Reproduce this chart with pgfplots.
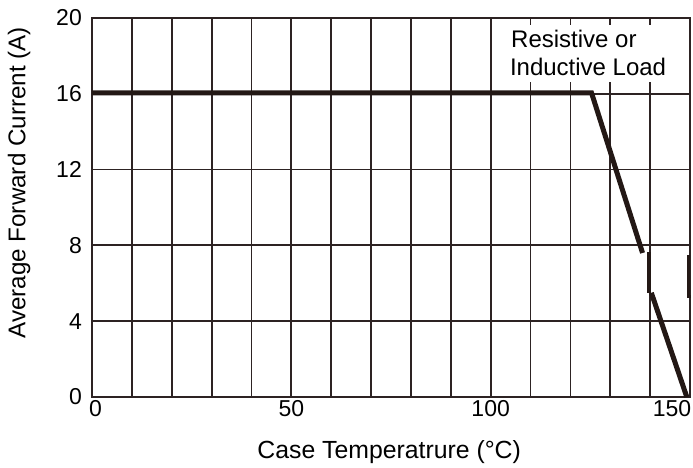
\documentclass[border=0pt]{standalone}
\usepackage{pgfplots}
\pgfplotsset{compat=1.18}
\usepackage{fontspec}
\setmainfont{Liberation Sans}
\definecolor{curve}{RGB}{35,24,21}
\definecolor{gridc}{RGB}{45,35,35}
\begin{document}
\begin{tikzpicture}
\begin{axis}[
  scale only axis,
  width=598pt, height=379pt,
  xmin=0, xmax=150, ymin=0, ymax=20,
  xtick={0,50,100,150},
  minor xtick={10,20,30,40,60,70,80,90,110,120,130,140},
  xticklabels={\hspace*{7pt}0,50,100,150\hspace*{36pt}},
  ytick={0,4,8,12,16,20},
  grid=both,
  major grid style={gridc, line width=1.8pt},
  minor grid style={gridc, line width=1.8pt},
  major tick length=0pt, minor tick length=0pt,
  axis line style={gridc, line width=2.4pt},
  tick label style={font=\fontsize{23}{26}\selectfont},
  /pgf/number format/assume math mode=true,
  yticklabel style={anchor=east, inner sep=0pt, xshift=-10pt},
  xticklabel style={anchor=north, inner sep=0pt, yshift=-3pt},
  xlabel={Case Temperatrure (°C)},
  ylabel={Average Forward Current (A)},
  label style={font=\fontsize{24.8}{28}\selectfont},
  xlabel style={at={(axis description cs:0.497,-0.161)}, anchor=base, inner sep=0pt},
  ylabel style={at={(axis description cs:-0.1217,0.565)}, anchor=center, inner sep=0pt, font=\fontsize{24.2}{28}\selectfont},
  clip=false,
]
\coordinate (bl) at (rel axis cs:0,0);
\coordinate (tr) at (rel axis cs:1,1);
\fill[white] (axis cs:101.6,19.63) rectangle (axis cs:149.6,16.62);
\node[anchor=base west, inner sep=0pt, font=\fontsize{24}{28}\selectfont] at (axis cs:105.1,18.42) {Resistive or};
\node[anchor=base west, inner sep=0pt, font=\fontsize{24}{28}\selectfont] at (axis cs:104.8,16.99) {Inductive Load};
\addplot[curve, line width=5pt, line join=miter] coordinates {(0,16.05) (125.3,16.05) (138.1,7.6)};
\addplot[curve, line width=4pt] coordinates {(139.8,7.65) (139.8,5.5)};
\addplot[curve, line width=5pt] coordinates {(140.3,5.5) (149.2,0)};
\addplot[curve, line width=3.5pt] coordinates {(149.6,7.5) (149.6,5.3) (150.3,5.3)};
\end{axis}
\pgfresetboundingbox
\path ([shift={(-92pt,-71pt)}]bl) rectangle ([shift={(3pt,18pt)}]tr);
\end{tikzpicture}
\end{document}
